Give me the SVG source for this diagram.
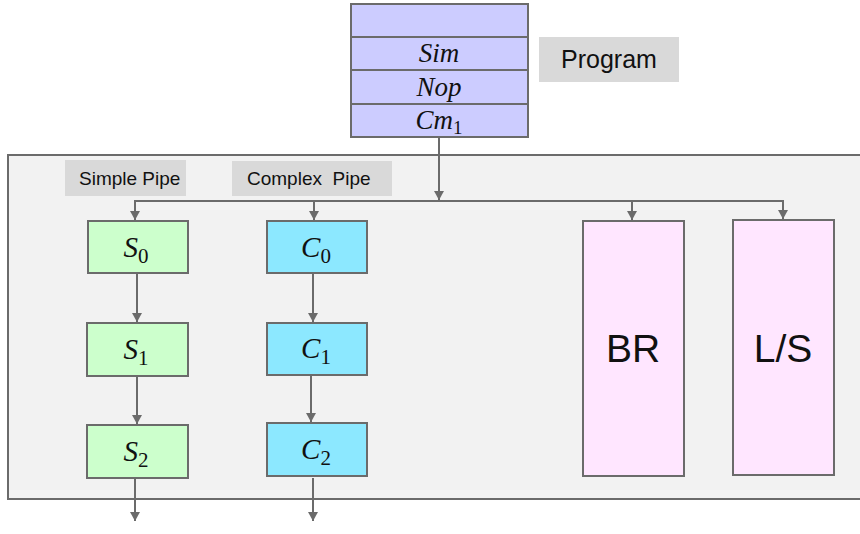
<svg xmlns="http://www.w3.org/2000/svg" width="860" height="534" viewBox="0 0 860 534">
<defs>
<marker id="arr" markerWidth="10" markerHeight="10" refX="9" refY="5" orient="auto" markerUnits="userSpaceOnUse">
<path d="M0,0 L9,5 L0,10 z" fill="#6b6b6b"/>
</marker>
<style>
.box{stroke:#6b6b6b;stroke-width:2}
.prog{fill:#ccccff}
.s{fill:#ccffcc}
.c{fill:#8ce8ff}
.fu{fill:#ffe6ff}
.lbl{fill:#d9d9d9}
.math{font-family:"Liberation Serif","DejaVu Serif",serif;font-style:italic;fill:#111}
.sub{font-style:normal}
.sans{font-family:"Liberation Sans",Arial,sans-serif;fill:#111}
.conn{stroke:#6b6b6b;stroke-width:2;fill:none}
</style>
</defs>
<rect id="panel" x="8" y="155" width="870" height="344" fill="#f2f2f2" stroke="#6b6b6b" stroke-width="2"/>

<g id="program-stack">
<rect class="box prog" x="351" y="4" width="177" height="33"/>
<rect class="box prog" x="351" y="37" width="177" height="33"/>
<rect class="box prog" x="351" y="70" width="177" height="34"/>
<rect class="box prog" x="351" y="104" width="177" height="33"/>
<text class="math" x="439" y="62" font-size="27" text-anchor="middle">Sim</text>
<text class="math" x="439" y="96" font-size="27" text-anchor="middle">Nop</text>
<text class="math" x="439" y="129" font-size="27" text-anchor="middle">Cm<tspan class="sub" font-size="19" dy="5">1</tspan></text>
</g>

<g id="program-label">
<rect class="lbl" x="539" y="37" width="140" height="45"/>
<text class="sans" x="609" y="68" font-size="25" text-anchor="middle">Program</text>
</g>

<g id="simple-pipe-label">
<rect class="lbl" x="65" y="160" width="121" height="36"/>
<text class="sans" x="79" y="185" font-size="19">Simple Pipe</text>
</g>
<g id="complex-pipe-label">
<rect class="lbl" x="232" y="161" width="160" height="35"/>
<text class="sans" x="247" y="185" font-size="19" xml:space="preserve">Complex  Pipe</text>
</g>

<g id="S0">
<rect class="box s" x="88" y="221" width="100" height="52"/>
<text class="math" x="136" y="257" font-size="29" text-anchor="middle">S<tspan class="sub" font-size="21" dy="6">0</tspan></text>
</g>
<g id="S1">
<rect class="box s" x="87" y="323" width="101" height="53"/>
<text class="math" x="136" y="359" font-size="29" text-anchor="middle">S<tspan class="sub" font-size="21" dy="6">1</tspan></text>
</g>
<g id="S2">
<rect class="box s" x="87" y="425" width="101" height="53"/>
<text class="math" x="136" y="461" font-size="29" text-anchor="middle">S<tspan class="sub" font-size="21" dy="6">2</tspan></text>
</g>
<g id="C0">
<rect class="box c" x="267" y="221" width="100" height="52"/>
<text class="math" x="316" y="257" font-size="29" text-anchor="middle">C<tspan class="sub" font-size="21" dy="6">0</tspan></text>
</g>
<g id="C1">
<rect class="box c" x="267" y="323" width="100" height="52"/>
<text class="math" x="316" y="358" font-size="29" text-anchor="middle">C<tspan class="sub" font-size="21" dy="6">1</tspan></text>
</g>
<g id="C2">
<rect class="box c" x="267" y="423" width="100" height="53"/>
<text class="math" x="316" y="459" font-size="29" text-anchor="middle">C<tspan class="sub" font-size="21" dy="6">2</tspan></text>
</g>
<g id="BR">
<rect class="box fu" x="583" y="221" width="101" height="255"/>
<text class="sans" x="633" y="362" font-size="39" text-anchor="middle">BR</text>
</g>
<g id="LS">
<rect class="box fu" x="733" y="220" width="101" height="255"/>
<text class="sans" x="783" y="362" font-size="39" text-anchor="middle">L/S</text>
</g>

<g id="connectors">
<line class="conn" x1="439" y1="137" x2="439" y2="200" marker-end="url(#arr)"/>
<polyline class="conn" points="135,220 135,201 783,201 783,219" marker-end="url(#arr)"/>
<line class="conn" x1="135" y1="201" x2="135" y2="220" marker-end="url(#arr)"/>
<line class="conn" x1="314" y1="201" x2="314" y2="220" marker-end="url(#arr)"/>
<line class="conn" x1="632" y1="201" x2="632" y2="220" marker-end="url(#arr)"/>
<line class="conn" x1="137" y1="273" x2="137" y2="322" marker-end="url(#arr)"/>
<line class="conn" x1="313" y1="273" x2="313" y2="322" marker-end="url(#arr)"/>
<line class="conn" x1="137" y1="376" x2="137" y2="424" marker-end="url(#arr)"/>
<line class="conn" x1="311" y1="375" x2="311" y2="422" marker-end="url(#arr)"/>
<line class="conn" x1="135" y1="478" x2="135" y2="521" marker-end="url(#arr)"/>
<line class="conn" x1="313" y1="478" x2="313" y2="521" marker-end="url(#arr)"/>
</g>
</svg>
